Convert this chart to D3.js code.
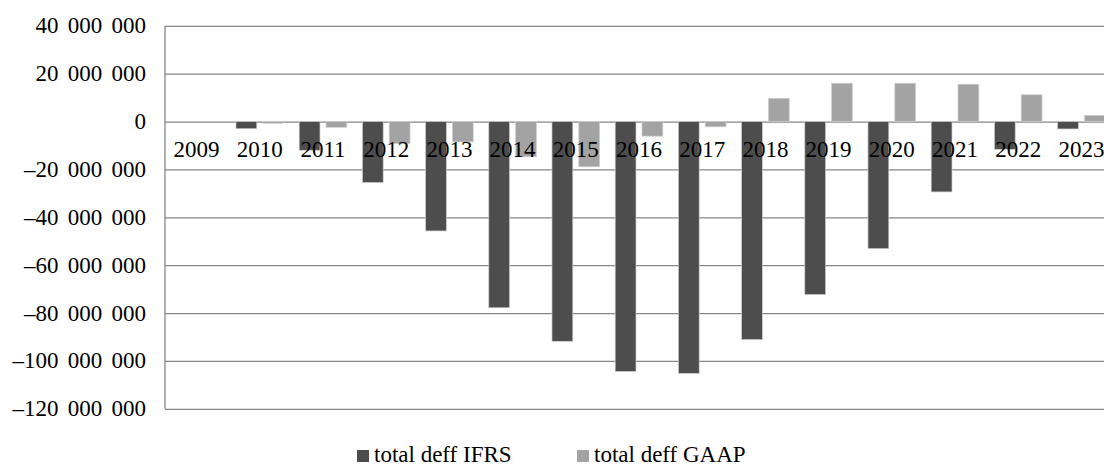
<!DOCTYPE html>
<html>
<head>
<meta charset="utf-8">
<script src="https://cdn.jsdelivr.net/npm/d3@7"></script>
<style>
  body { margin: 0; background: #fff; }
</style>
</head>
<body>
<svg id="chart"></svg>
<script>
// data
let years = ["2009", "2010", "2011", "2012", "2013", "2014", "2015", "2016",
             "2017", "2018", "2019", "2020", "2021", "2022", "2023"];
let series_names = ["total deff IFRS", "total deff GAAP"];
let ifrs_values = [0, -3000000, -12000000, -25500000, -45700000, -77800000, -91800000, -104400000,
                   -105200000, -91100000, -72300000, -53100000, -29400000, -11600000, -3100000];
let gaap_values = [0, -700000, -2400000, -9200000, -8500000, -14700000, -18900000, -6100000,
                   -2200000, 9700000, 16000000, 16000000, 15600000, 11200000, 2600000];
let y_ticks = [40000000, 20000000, 0, -20000000, -40000000, -60000000, -80000000, -100000000, -120000000];
let colors = ["#4d4d4d", "#a3a3a3"];

let chart_width = 1104;
let chart_height = 466;
let left = 165;
let top_y = 25.8;
let bottom_y = 408.8;
let step = 63.2;
let font = "'Liberation Serif', 'Times New Roman', 'DejaVu Serif', serif";

let svg = d3.select("#chart")
    .attr("width", chart_width)
    .attr("height", chart_height);

let locale = d3.formatLocale({decimal: ",", thousands: " ", grouping: [3], currency: ["", ""], minus: "\u2013"});
let fmt = locale.format(",");

let x0 = d3.scaleBand()
    .domain(years)
    .range([left, left + step * years.length]);

let x1 = d3.scaleBand()
    .domain([0, 1])
    .range([0, step])
    .paddingInner(0.224)
    .paddingOuter(0.29);

let y = d3.scaleLinear()
    .domain([-120000000, 40000000])
    .range([bottom_y, top_y]);

// gridlines
svg.append("g")
    .attr("transform", "translate(" + left + ",0)")
    .call(d3.axisLeft(y).tickValues(y_ticks).tickSize(-(chart_width - left)).tickFormat(""))
    .call(g => g.select(".domain").remove())
    .call(g => g.selectAll("line").attr("stroke", "#868686").attr("stroke-width", 1.3));

// left axis line
svg.append("line")
    .attr("x1", left).attr("x2", left)
    .attr("y1", y(40000000)).attr("y2", y(-120000000))
    .attr("stroke", "#868686")
    .attr("stroke-width", 1.3);

// y labels
svg.selectAll(".ylab").data(y_ticks).enter().append("text")
    .attr("class", "ylab")
    .attr("x", 146)
    .attr("y", d => y(d) + 7.5)
    .attr("text-anchor", "end")
    .attr("font-family", font)
    .attr("font-size", 23)
    .attr("word-spacing", 3.5)
    .attr("fill", "#000")
    .text(d => fmt(d));

// bars
let all_series = [ifrs_values, gaap_values];
all_series.forEach((vals, s) => {
    svg.append("g").selectAll("rect").data(vals).enter().append("rect")
        .attr("x", (d, i) => x0(years[i]) + x1(s))
        .attr("width", x1.bandwidth())
        .attr("y", d => y(Math.max(0, d)))
        .attr("height", d => Math.abs(y(d) - y(0)))
        .attr("fill", colors[s])
        .attr("stroke", "#cfcfcf")
        .attr("stroke-width", 0.7);
});

// category labels on top of the bars
svg.selectAll(".xlab").data(years).enter().append("text")
    .attr("class", "xlab")
    .attr("x", d => x0(d) + x0.bandwidth() / 2)
    .attr("y", 157)
    .attr("text-anchor", "middle")
    .attr("font-family", font)
    .attr("font-size", 23)
    .attr("fill", "#000")
    .text(d => d);

// legend
let legend_x = [357, 577];
series_names.forEach((name, s) => {
    svg.append("rect")
        .attr("x", legend_x[s])
        .attr("y", 450)
        .attr("width", 12)
        .attr("height", 12)
        .attr("fill", colors[s]);
    svg.append("text")
        .attr("x", legend_x[s] + 17)
        .attr("y", 462)
        .attr("font-family", font)
        .attr("font-size", 23)
        .attr("fill", "#000")
        .text(name);
});
</script>
</body>
</html>
